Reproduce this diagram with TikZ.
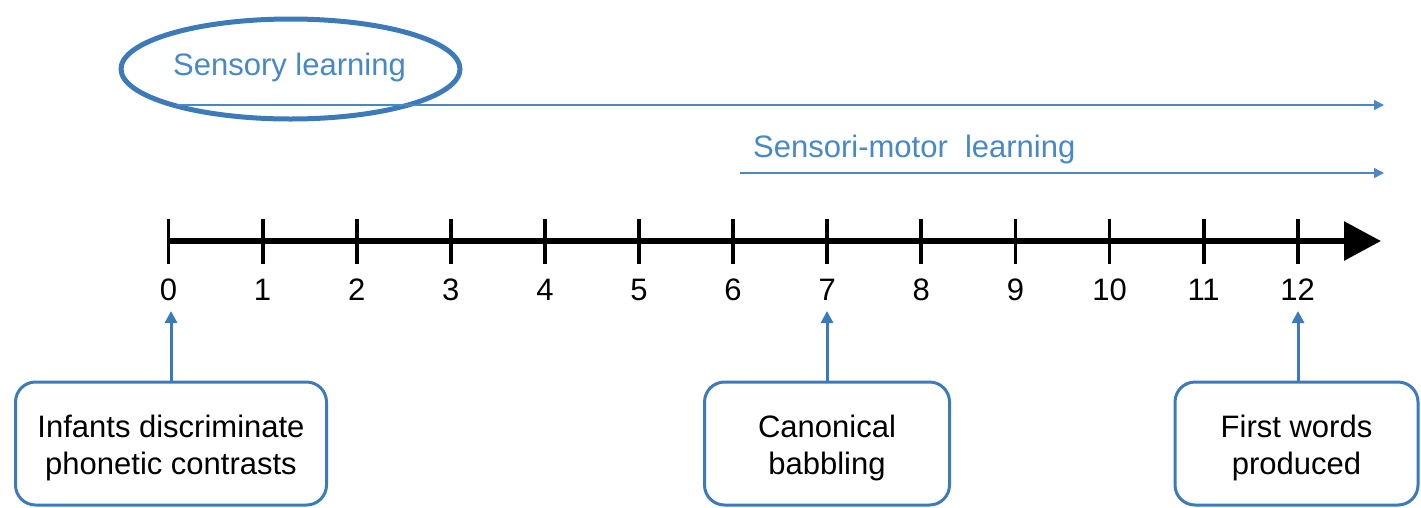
\documentclass[tikz,border=0pt]{standalone}
\usepackage{fontspec}
\setmainfont{Liberation Sans}
\usetikzlibrary{arrows.meta,shapes.geometric}
\definecolor{edgeblue}{RGB}{60,122,186}
\definecolor{textblue}{RGB}{70,136,200}
\definecolor{lineblue}{RGB}{75,135,198}
\tikzset{
  axislabel/.style={font=\fontsize{31}{37}\selectfont, anchor=base, inner sep=0pt},
  phase/.style={font=\fontsize{31}{37}\selectfont, text=textblue, anchor=base west, inner sep=0pt},
  phasearrow/.style={draw=lineblue, line width=1.5pt, -{Triangle[length=10pt,width=10pt]}},
  eventbox/.style={draw=edgeblue, line width=3pt, rounded corners=20pt, inner sep=0pt, minimum height=123pt},
  boxtext/.style={align=center, font=\fontsize{31}{37}\selectfont, inner sep=0pt},
  eventarrow/.style={draw=edgeblue, line width=3pt, -{Triangle[length=12pt,width=12pt]}},
  tick/.style={line width=3.8pt}
}
\begin{document}
\begin{tikzpicture}[x=1pt,y=-1pt]
\useasboundingbox (0,0) rectangle (1421,507);
% phases
\node[draw=edgeblue, line width=5pt, ellipse, minimum width=339pt, minimum height=100pt, inner sep=0pt] (ell) at (290.5,69) {};
\node[phase] (sens) at (173,75) {Sensory learning};
\coordinate (s1a) at (177,105);
\coordinate (s1b) at (1384,105);
\draw[phasearrow] (s1a) -- (s1b);
\node[phase] (smot) at (753,157) {Sensori-motor\ \ learning};
\coordinate (s2a) at (740,173);
\coordinate (s2b) at (1384,173);
\draw[phasearrow] (s2a) -- (s2b);
% axis
\coordinate (ax0) at (168.5,241);
\coordinate (ax1) at (1381,241);
\draw[line width=6pt, -{Triangle[length=37pt,width=38pt]}] (ax0) -- (ax1);
\foreach \i in {0,...,12}{
  \draw[tick] (168.5+94.1*\i,219) -- (168.5+94.1*\i,264);
  \node[axislabel] (t\i) at (168.5+94.1*\i,300) {\i};
}
% events
\node[eventbox, minimum width=311pt] (b1) at (171,443.5) {};
\node[eventbox, minimum width=245pt] (b2) at (827,443.5) {};
\node[eventbox, minimum width=243pt] (b3) at (1296.5,443.5) {};
\node[boxtext] (b1t) at ([yshift=-4pt]b1.center) {Infants discriminate\\phonetic contrasts};
\node[boxtext] (b2t) at ([yshift=-4pt]b2.center) {Canonical\\babbling};
\node[boxtext] (b3t) at ([yshift=-4pt]b3.center) {First words\\produced};
\coordinate (e1) at (171,311);
\coordinate (e2) at (827,311);
\coordinate (e3) at (1298,311);
\draw[eventarrow] (b1.north) -- (e1);
\draw[eventarrow] (b2.north) -- (e2);
\draw[eventarrow] (b3.north -| e3) -- (e3);
\end{tikzpicture}
\end{document}
